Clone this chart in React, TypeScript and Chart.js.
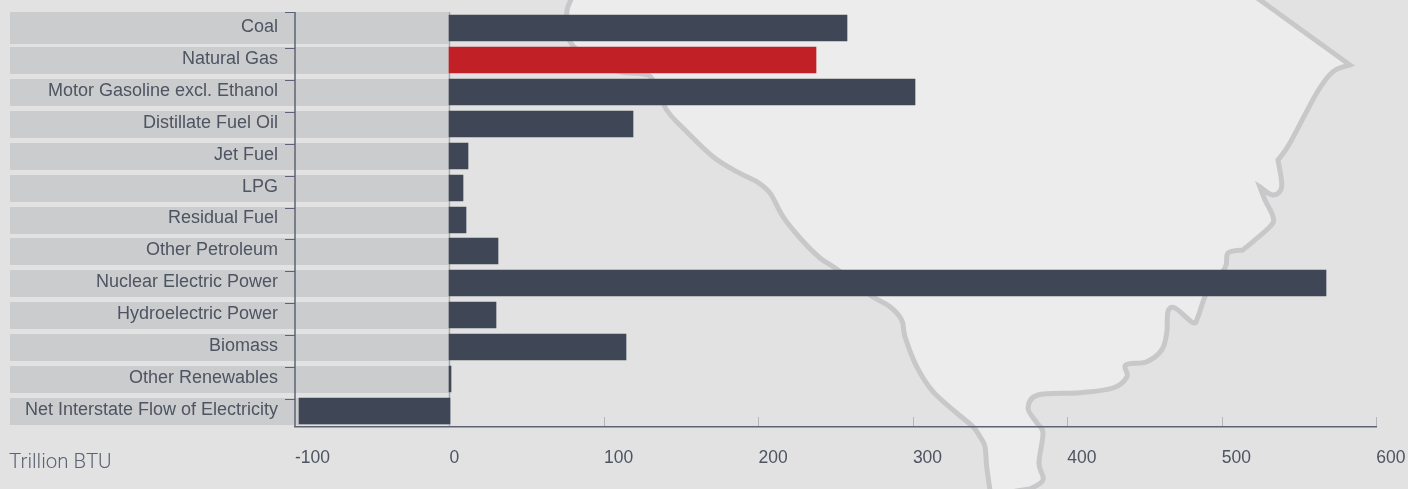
import React, { useEffect, useRef } from "react";
import { Chart, registerables } from "chart.js";

Chart.register(...registerables);

const categories = [
  "Coal",
  "Natural Gas",
  "Motor Gasoline excl. Ethanol",
  "Distillate Fuel Oil",
  "Jet Fuel",
  "LPG",
  "Residual Fuel",
  "Other Petroleum",
  "Nuclear Electric Power",
  "Hydroelectric Power",
  "Biomass",
  "Other Renewables",
  "Net Interstate Flow of Electricity",
];
const values = [257.3, 237.2, 301.3, 118.8, 12, 8.7, 10.7, 31.4, 567.3, 30, 114.2, 1, -97.4];
const highlighted = "Natural Gas";
const unitLabel = "Trillion BTU";

const DARK = "#3f4756";
const RED = "#c02026";
const TEXT = "#4d5462";
const AXIS = "#5b6374";
const BAND = "#cbcccd";
const FONT = "'Liberation Sans', Arial, sans-serif";

// Decorative state-outline backdrop, split where the outline has sharp corners.
const outlineSegments: number[][][] = [
  [[572.7,-4],[566.7,13],[570,41.7],[590,58],[620,71.7],[643,74],[653,80],[666.7,110],[686.7,131.7],[713,156.7],[736.7,171.7],[756.7,181.7],[770,193],[783,216.7],[800,238],[820,258],[838,270],[870,295],[890,306.7],[901.7,320],[905,336.7],[916.7,366.7],[933,391.7],[956.7,413],[973,426.7],[980,436.7],[985,446.7],[986.7,466.7],[990.7,495]],
  [[1030,489],[1043,480],[1039,463],[1043,433],[1037,423],[1028,408],[1038,395],[1080,392.7],[1113,388],[1127,376.7],[1125.7,365],[1146.7,361.7],[1161.7,350],[1166.7,333],[1168,311.7],[1175,308],[1193,322.7],[1198,316.7],[1206.7,293],[1225,268],[1228,253],[1243,250]],
  [[1243,250],[1270,226.7],[1273,216.7],[1265,200],[1260,187]],
  [[1260,187],[1273,195],[1281.7,186.7],[1278,160]],
  [[1278,160],[1290,143],[1316.7,93],[1333,71.7],[1350,65]],
  [[1350,65],[1260,0],[1250,-7]],
];

function outlinePath(): string {
  let d = "";
  outlineSegments.forEach((pts, s) => {
    d += s === 0 ? `M${pts[0][0]} ${pts[0][1]}` : `L${pts[0][0]} ${pts[0][1]}`;
    for (let i = 0; i < pts.length - 1; i++) {
      const p0 = pts[Math.max(0, i - 1)];
      const p1 = pts[i];
      const p2 = pts[i + 1];
      const p3 = pts[Math.min(pts.length - 1, i + 2)];
      const c1x = p1[0] + (p2[0] - p0[0]) / 6;
      const c1y = p1[1] + (p2[1] - p0[1]) / 6;
      const c2x = p2[0] - (p3[0] - p1[0]) / 6;
      const c2y = p2[1] - (p3[1] - p1[1]) / 6;
      d += `C${c1x} ${c1y} ${c2x} ${c2y} ${p2[0]} ${p2[1]}`;
    }
  });
  return d;
}

const decorations = {
  id: "decorations",
  // Snap the bars computed by the scales to whole pixels so their edges stay crisp.
  afterDatasetsUpdate(chart: any) {
    chart.getDatasetMeta(0).data.forEach((el: any) => {
      const negative = el.x < el.base;
      el.y = Math.round(el.y);
      el.x = Math.round(el.x);
      el.base = negative ? Math.ceil(el.base) : Math.floor(el.base);
    });
  },
  // Runs before the axes so that their labels stay on top of the bands.
  beforeDraw(chart: any) {
    const { ctx, chartArea, scales } = chart;
    const x = scales.x;
    const y = scales.y;
    const zero = x.getPixelForValue(0);
    ctx.save();
    // zero line
    ctx.strokeStyle = "#a3a7ae";
    ctx.lineWidth = 1.5;
    ctx.beginPath();
    ctx.moveTo(zero, chartArea.top);
    ctx.lineTo(zero, chartArea.bottom);
    ctx.stroke();
    // label bands
    ctx.fillStyle = BAND;
    categories.forEach((_, i) => {
      const c = Math.round(y.getPixelForValue(i));
      const top = i === 0 ? chartArea.top : c - 13;
      const bottom = i === 0 ? c + 16 : c + 14;
      ctx.fillRect(10, top, Math.floor(zero) - 10, bottom - top);
    });
    // y-axis line over the bands
    ctx.strokeStyle = AXIS;
    ctx.lineWidth = 1.5;
    ctx.beginPath();
    ctx.moveTo(chartArea.left, chartArea.top);
    ctx.lineTo(chartArea.left, chartArea.bottom);
    ctx.stroke();
    // y ticks
    ctx.lineWidth = 1;
    categories.forEach((_, i) => {
      const c = Math.round(y.getPixelForValue(i));
      const ty = (i === 0 ? chartArea.top : c - 12) + 0.5;
      ctx.beginPath();
      ctx.moveTo(chartArea.left - 10, ty);
      ctx.lineTo(chartArea.left, ty);
      ctx.stroke();
    });
    // x ticks, pointing into the plot
    ctx.strokeStyle = "#b3b6bb";
    x.ticks.forEach((t: any) => {
      const tx = Math.round(x.getPixelForValue(t.value)) + 0.5;
      if (t.value === -100) return;
      ctx.beginPath();
      ctx.moveTo(tx, chartArea.bottom - 10);
      ctx.lineTo(tx, chartArea.bottom);
      ctx.stroke();
    });
    ctx.restore();
  },
};

const clearPadding = (s: any) => {
  s.paddingLeft = 0;
  s.paddingRight = 0;
  s.paddingTop = 0;
  s.paddingBottom = 0;
};

export default function App() {
  const ref = useRef<HTMLCanvasElement>(null);
  useEffect(() => {
    document.body.style.margin = "0";
    const chart = new Chart(ref.current as HTMLCanvasElement, {
      type: "bar",
      data: {
        labels: categories,
        datasets: [
          {
            data: values,
            backgroundColor: categories.map((c) => (c === highlighted ? RED : DARK)),
            barThickness: 26,
            borderWidth: 0,
          },
        ],
      },
      options: {
        indexAxis: "y",
        animation: false,
        responsive: false,
        maintainAspectRatio: false,
        layout: { padding: { top: 12, right: 31.7, bottom: 0, left: 9 } },
        plugins: {
          legend: { display: false },
          tooltip: { enabled: false },
          title: {
            display: true,
            position: "bottom",
            align: "start",
            text: unitLabel,
            color: "#5b6374",
            font: { family: "Roboto, " + FONT, size: 20.5, weight: "300", lineHeight: 1.2 },
            padding: { top: -22, bottom: 13.4 },
          },
        },
        scales: {
          x: {
            type: "linear",
            min: -100,
            max: 600,
            afterFit: (s: any) => {
              s.height = 46;
              clearPadding(s);
            },
            grid: { display: false, drawTicks: false },
            border: { display: true, color: AXIS, width: 1.5 },
            ticks: {
              stepSize: 100,
              align: "start",
              color: TEXT,
              padding: 21,
              maxRotation: 0,
              font: { family: FONT, size: 17.5 },
            },
          },
          y: {
            type: "category",
            afterFit: (s: any) => {
              s.width = 286;
              clearPadding(s);
            },
            grid: { display: false, drawTicks: false },
            border: { display: false },
            ticks: {
              color: TEXT,
              padding: 17,
              autoSkip: false,
              labelOffset: -1,
              font: { family: FONT, size: 18 },
            },
          },
        },
      },
      plugins: [decorations],
    } as any);
    return () => chart.destroy();
  }, []);
  return (
    <div style={{ position: "fixed", left: 0, top: 0, width: 1408, height: 489, background: "#e2e2e2", overflow: "hidden" }}>
      <svg width={1408} height={489} style={{ position: "absolute", left: 0, top: 0 }}>
        <path d={outlinePath() + "Z"} fill="#ececec" stroke="none" />
        <path d={outlinePath()} fill="none" stroke="#c8c8ca" strokeWidth={5} strokeLinejoin="miter" />
      </svg>
      <canvas ref={ref} width={1408} height={489} style={{ position: "absolute", left: 0, top: 0, display: "block" }} />
    </div>
  );
}
